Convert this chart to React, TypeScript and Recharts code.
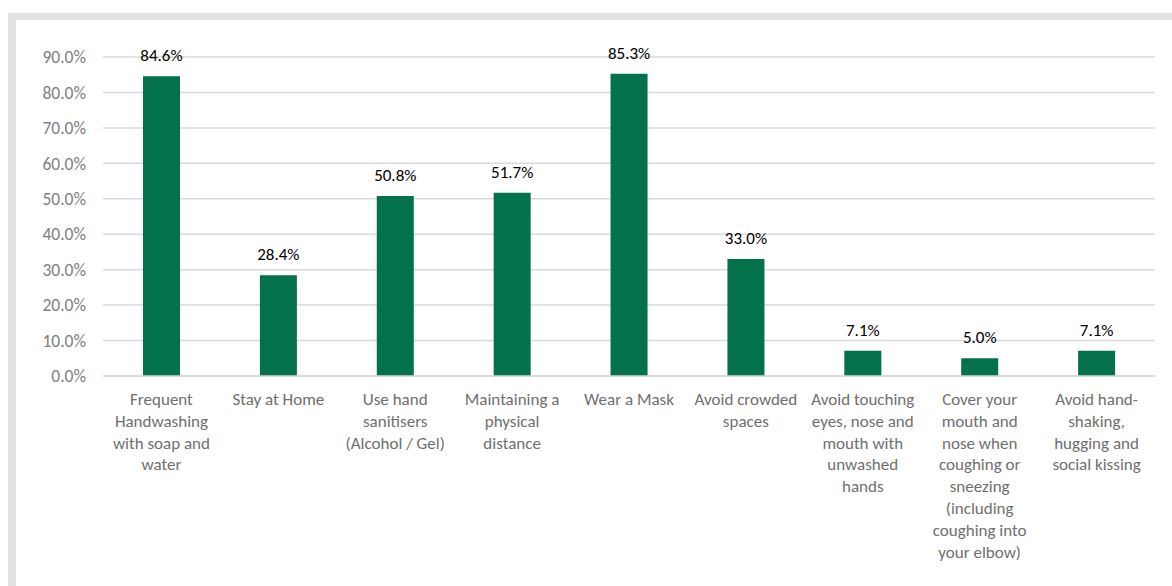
import React from 'react';
import { BarChart, Bar, XAxis, YAxis, CartesianGrid, LabelList } from 'recharts';

const categories = [
  'Frequent\nHandwashing\nwith soap and\nwater',
  'Stay at Home',
  'Use hand\nsanitisers\n(Alcohol / Gel)',
  'Maintaining a\nphysical\ndistance',
  'Wear a Mask',
  'Avoid crowded\nspaces',
  'Avoid touching\neyes, nose and\nmouth with\nunwashed\nhands',
  'Cover your\nmouth and\nnose when\ncoughing or\nsneezing\n(including\ncoughing into\nyour elbow)',
  'Avoid hand-\nshaking,\nhugging and\nsocial kissing',
];

const percentages = [84.6, 28.4, 50.8, 51.7, 85.3, 33.0, 7.1, 5.0, 7.1];

const yTicks = [0, 10, 20, 30, 40, 50, 60, 70, 80, 90];

const FONT = 'Carlito, Calibri, Lato, "Open Sans", sans-serif';

const chartData = categories.map((name, i) => ({ name, value: percentages[i] }));

function CategoryTick(props: any) {
  const { x, y, payload } = props;
  const lines = String(payload.value).split('\n');
  return (
    <text x={x} y={y} textAnchor="middle" fill="#6f6f6f" fontSize={17} fontFamily={FONT}>
      {lines.map((line, i) => (
        <tspan key={i} x={x} dy={i === 0 ? 21 : 21.8}>
          {line}
        </tspan>
      ))}
    </text>
  );
}

export default function App() {
  return (
    <div
      style={{
        position: 'fixed',
        left: 8,
        top: 13,
        width: 1164,
        height: 573,
        borderLeft: '8px solid #e2e2e2',
        borderTop: '7px solid #e2e2e2',
        background: '#fff',
        boxSizing: 'border-box',
      }}
    >
      <BarChart
        width={1156}
        height={566}
        data={chartData}
        margin={{ top: 37, right: 17, bottom: 0, left: 0 }}
        style={{ fontFamily: FONT }}
      >
        <CartesianGrid vertical={false} stroke="#d9d9d9" strokeWidth={1.5} />
        <XAxis
          dataKey="name"
          height={210}
          axisLine={{ stroke: '#d9d9d9', strokeWidth: 1.5 }}
          tickLine={false}
          interval={0}
          tick={<CategoryTick />}
        />
        <YAxis
          width={87}
          domain={[0, 90]}
          ticks={yTicks}
          axisLine={false}
          tickLine={false}
          tickMargin={11}
          tickFormatter={(v: number) => `${v.toFixed(1)}%`}
          tick={{ fill: '#7f7f7f', fontSize: 17.5, fontFamily: FONT }}
        />
        <Bar dataKey="value" fill="#03714a" barSize={37} isAnimationActive={false}>
          <LabelList
            dataKey="value"
            position="top"
            offset={15}
            formatter={(v: number) => `${v.toFixed(1)}%`}
            style={{ fill: '#000', fontSize: 17, fontFamily: FONT }}
          />
        </Bar>
      </BarChart>
    </div>
  );
}
